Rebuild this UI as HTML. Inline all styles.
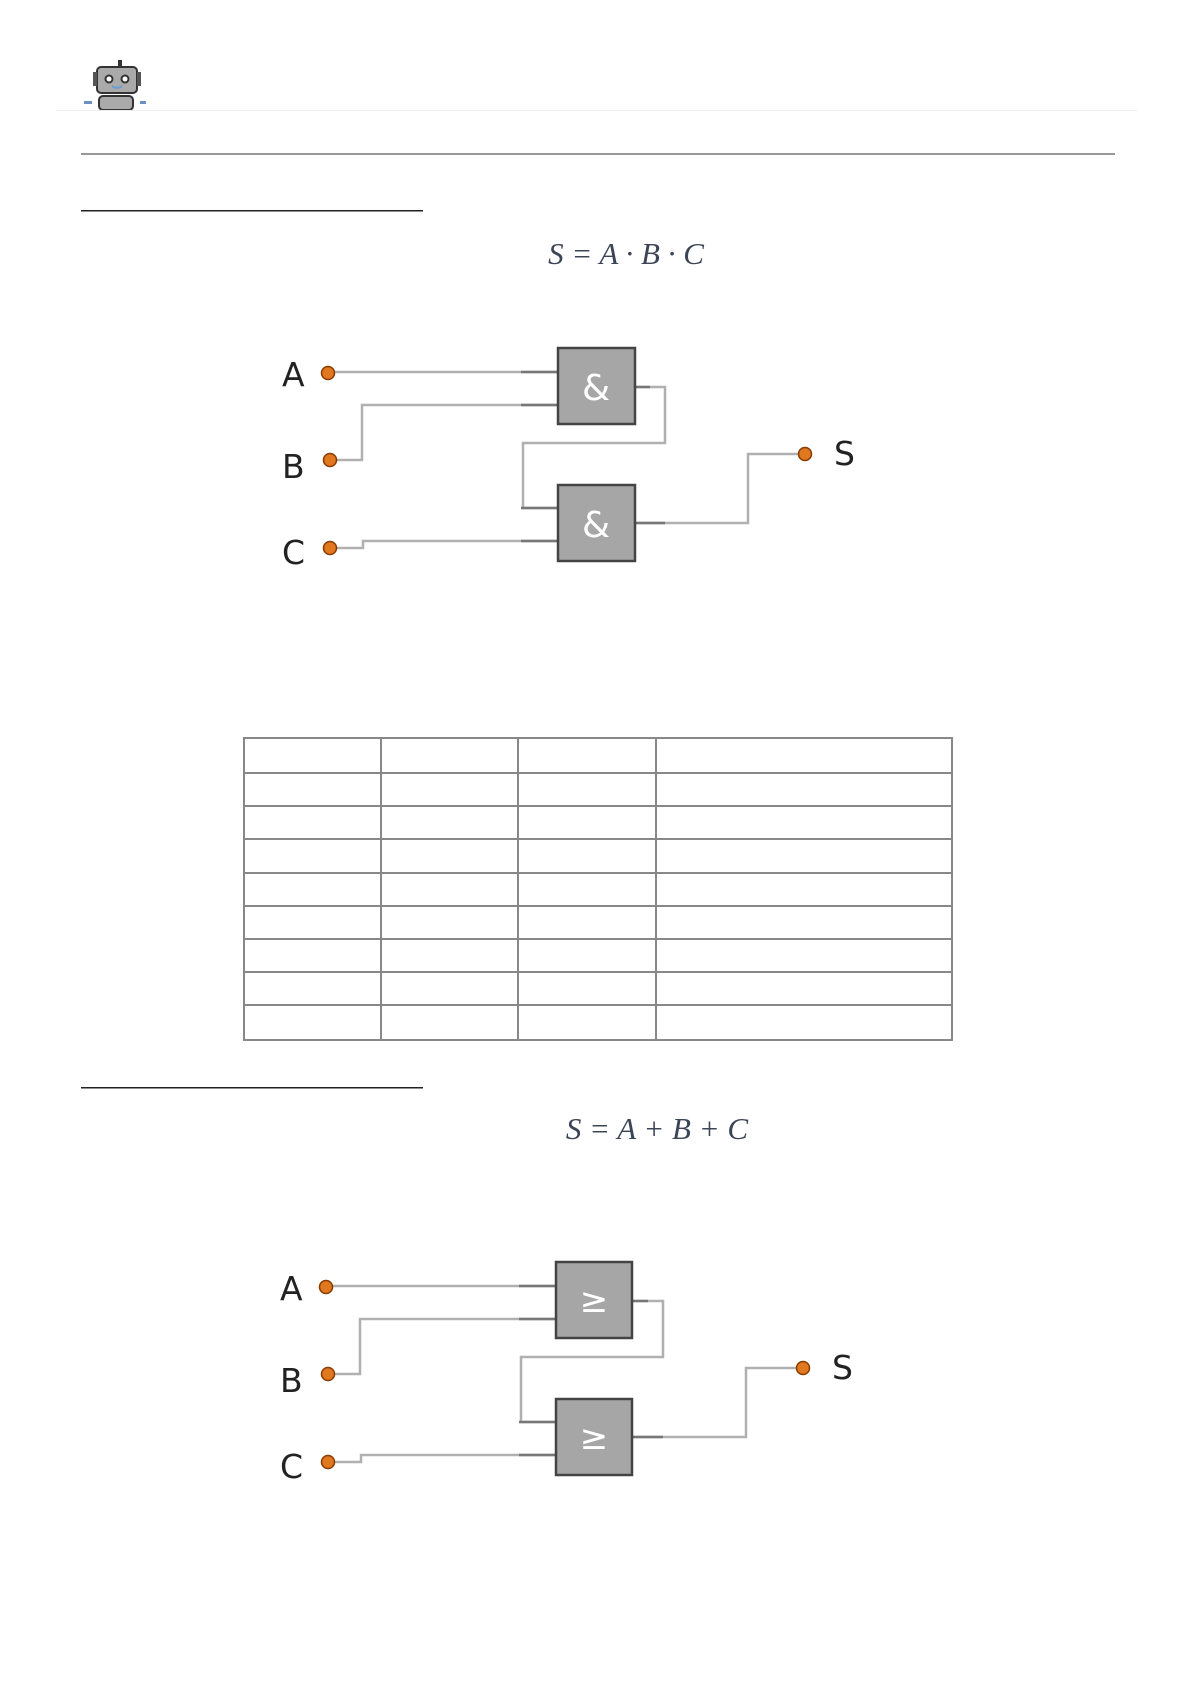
<!DOCTYPE html>
<html><head><meta charset="utf-8"><style>
body{margin:0;background:#fff;}
svg{display:block}
</style></head><body>
<svg width="1190" height="1684" viewBox="0 0 1190 1684" xmlns="http://www.w3.org/2000/svg">
<!-- robot -->
<g>
<rect x="118" y="60" width="4" height="8" fill="#333"/>
<rect x="97" y="67" width="40" height="26" rx="4" fill="#aaa" stroke="#333" stroke-width="2"/>
<rect x="93" y="72" width="4" height="14" fill="#555"/>
<rect x="137" y="72" width="4" height="14" fill="#555"/>
<circle cx="109" cy="79" r="3.5" fill="#fff" stroke="#333" stroke-width="2"/>
<circle cx="125" cy="79" r="3.5" fill="#fff" stroke="#333" stroke-width="2"/>
<path d="M112 86 Q117 90 122 86" stroke="#6a9fd0" stroke-width="2" fill="none"/>
<rect x="99" y="96" width="34" height="14" rx="4" fill="#aaa" stroke="#333" stroke-width="2"/>
<rect x="84" y="101" width="8" height="3" fill="#6a8fc0"/>
<rect x="140" y="101" width="6" height="3" fill="#6a8fc0"/>
</g>
<rect x="56" y="110" width="1081" height="1" fill="#eee"/>
<rect x="81" y="153" width="1034" height="2" fill="#999"/>
<rect x="81" y="210" width="342" height="1.5" fill="#222"/>
<text x="626" y="264" text-anchor="middle" font-family="Liberation Serif,serif" font-style="italic" font-size="31" fill="#3c4556">S = A · B · C</text>

<g id="c1" font-family="DejaVu Sans,Liberation Sans,sans-serif">
<g fill="none" stroke="#b0b0b0" stroke-width="2.5">
<polyline points="328,372 558,372"/>
<polyline points="330,460 362,460 362,405 558,405"/>
<polyline points="635,387 665,387 665,443 523,443 523,508 558,508"/>
<polyline points="330,548 363,548 363,541 558,541"/>
<polyline points="635,523 748,523 748,454 804,454"/>
</g>
<g stroke="#777" stroke-width="2.5">
<line x1="521" y1="372" x2="558" y2="372"/>
<line x1="521" y1="405" x2="558" y2="405"/>
<line x1="521" y1="508" x2="558" y2="508"/>
<line x1="521" y1="541" x2="558" y2="541"/>
<line x1="635" y1="387" x2="650" y2="387"/>
<line x1="635" y1="523" x2="665" y2="523"/>
</g>
<rect x="558" y="348" width="77" height="76" fill="#a6a6a6" stroke="#444" stroke-width="2.5"/>
<rect x="558" y="485" width="77" height="76" fill="#a6a6a6" stroke="#444" stroke-width="2.5"/>
<text x="596" y="400" text-anchor="middle" font-size="36" fill="#fff">&amp;</text>
<text x="596" y="537" text-anchor="middle" font-size="36" fill="#fff">&amp;</text>
<g fill="#e07820" stroke="#8a3a00" stroke-width="1.5">
<circle cx="328" cy="373" r="6.5"/><circle cx="330" cy="460" r="6.5"/><circle cx="330" cy="548" r="6.5"/><circle cx="805" cy="454" r="6.5"/>
</g>
<g font-size="33" fill="#222">
<text x="282" y="386">A</text><text x="282" y="478">B</text><text x="282" y="564">C</text><text x="834" y="465">S</text>
</g>
</g>

<!-- table -->
<g stroke="#888" stroke-width="2" fill="none">
<rect x="244" y="738" width="708" height="302"/>
<line x1="381" y1="738" x2="381" y2="1040"/>
<line x1="518" y1="738" x2="518" y2="1040"/>
<line x1="656" y1="738" x2="656" y2="1040"/>
<line x1="244" y1="773" x2="952" y2="773"/>
<line x1="244" y1="806" x2="952" y2="806"/>
<line x1="244" y1="839" x2="952" y2="839"/>
<line x1="244" y1="873" x2="952" y2="873"/>
<line x1="244" y1="906" x2="952" y2="906"/>
<line x1="244" y1="939" x2="952" y2="939"/>
<line x1="244" y1="972" x2="952" y2="972"/>
<line x1="244" y1="1005" x2="952" y2="1005"/>
</g>

<rect x="81" y="1087" width="342" height="1.5" fill="#222"/>
<text x="657" y="1139" text-anchor="middle" font-family="Liberation Serif,serif" font-style="italic" font-size="31" fill="#3c4556">S = A + B + C</text>

<g transform="translate(-2,914)" font-family="DejaVu Sans,Liberation Sans,sans-serif">
<g fill="none" stroke="#b0b0b0" stroke-width="2.5">
<polyline points="328,372 558,372"/>
<polyline points="330,460 362,460 362,405 558,405"/>
<polyline points="635,387 665,387 665,443 523,443 523,508 558,508"/>
<polyline points="330,548 363,548 363,541 558,541"/>
<polyline points="635,523 748,523 748,454 804,454"/>
</g>
<g stroke="#777" stroke-width="2.5">
<line x1="521" y1="372" x2="558" y2="372"/>
<line x1="521" y1="405" x2="558" y2="405"/>
<line x1="521" y1="508" x2="558" y2="508"/>
<line x1="521" y1="541" x2="558" y2="541"/>
<line x1="635" y1="387" x2="650" y2="387"/>
<line x1="635" y1="523" x2="665" y2="523"/>
</g>
<rect x="558" y="348" width="76" height="76" fill="#a6a6a6" stroke="#444" stroke-width="2.5"/>
<rect x="558" y="485" width="76" height="76" fill="#a6a6a6" stroke="#444" stroke-width="2.5"/>
<text x="596" y="398" text-anchor="middle" font-size="34" fill="#fff">≥</text>
<text x="596" y="535" text-anchor="middle" font-size="34" fill="#fff">≥</text>
<g fill="#e07820" stroke="#8a3a00" stroke-width="1.5">
<circle cx="328" cy="373" r="6.5"/><circle cx="330" cy="460" r="6.5"/><circle cx="330" cy="548" r="6.5"/><circle cx="805" cy="454" r="6.5"/>
</g>
<g font-size="33" fill="#222">
<text x="282" y="386">A</text><text x="282" y="478">B</text><text x="282" y="564">C</text><text x="834" y="465">S</text>
</g>
</g>
</svg>
</body></html>
